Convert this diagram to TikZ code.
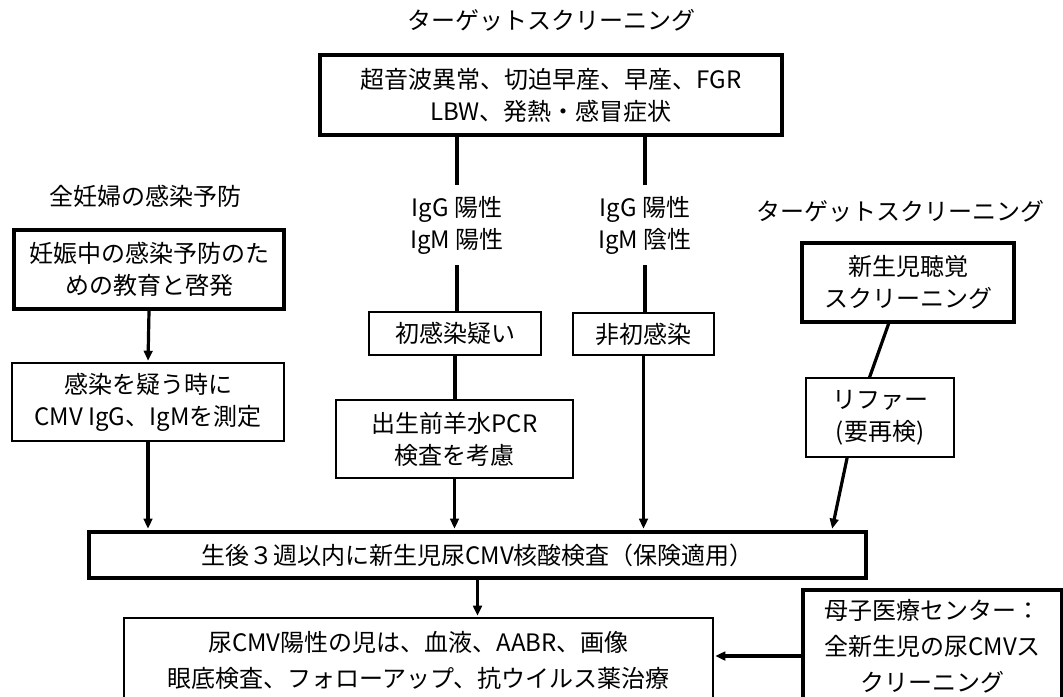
\documentclass[tikz,border=0pt]{standalone}
\usepackage{fontspec}
\setmainfont{Noto Sans CJK JP}
\usetikzlibrary{arrows.meta,calc}
\begin{document}
\begin{tikzpicture}[x=0.75pt,y=-0.75pt,
  every node/.style={font=\fontsize{18pt}{24pt}\selectfont, align=center, inner sep=0pt},
  wide/.style={font=\fontsize{18pt}{27pt}\selectfont},
  thickbox/.style={draw, line width=2.6pt},
  thinbox/.style={draw, line width=1pt},
  conn/.style={line width=2.4pt},
  arr/.style={line width=2.4pt, shorten >=1.2pt, -{Triangle[length=7.5pt,width=6.5pt]}}]
\useasboundingbox (0,0) rectangle (1063,696);
\fill[white] (0,0) rectangle (1063,696);
\begin{scope}
\clip (0,0) rectangle (1063,696);

\node (t1) at (551,20) {ターゲットスクリーニング};
\node[thickbox, minimum width=346.5pt, minimum height=60pt] (top) at (551,95) {超音波異常、切迫早産、早産、FGR\\LBW、発熱・感冒症状};
\node[minimum height=60pt] (l1) at (457,225) {IgG 陽性\\IgM 陽性};
\node[minimum height=60pt] (l2) at (645,225) {IgG 陽性\\IgM 陰性};
\node[thinbox, minimum width=129pt, minimum height=32.25pt] (sus) at (455,333.5) {初感染疑い};
\node[thinbox, minimum width=105.75pt, minimum height=31.5pt] (non) at (643.5,334) {非初感染};
\node[thinbox, minimum width=177.75pt, minimum height=58.5pt] (pcr) at (454.5,439) {出生前羊水PCR\\検査を考慮};

\node (t2) at (145,196) {全妊婦の感染予防};
\node[thickbox, minimum width=202.5pt, minimum height=59.25pt] (edu) at (149,269.5) {妊娠中の感染予防のた\\めの教育と啓発};
\node[thinbox, minimum width=204pt, minimum height=58.5pt] (meas) at (148,402) {感染を疑う時に\\CMV IgG、IgMを測定};

\node (t3) at (900,211) {ターゲットスクリーニング};
\node[thickbox, minimum width=159pt, minimum height=59.25pt] (hear) at (908,282.5) {新生児聴覚\\スクリーニング};
\node[thinbox, minimum width=111pt, minimum height=59.25pt] (ref) at (880,417.5) {リファー\\(要再検)};

\node[thickbox, minimum width=582.75pt, minimum height=34.5pt] (test) at (477.5,555) {生後３週以内に新生児尿CMV核酸検査（保険適用）};
\node[thinbox, wide, minimum width=441.75pt, minimum height=63pt] (pos) at (418.5,660) {尿CMV陽性の児は、血液、AABR、画像\\眼底検査、フォローアップ、抗ウイルス薬治療};
\node[thickbox, wide, minimum width=194.25pt, minimum height=84pt] (mc) at (932.5,646) {母子医療センター：\\全新生児の尿CMVス\\クリーニング};

\draw[conn] (top.south -| l1.north) -- (l1.north);
\draw[conn] (l1.south) -- (l1.south |- sus.north);
\draw[conn] (sus.south) -- (sus.south |- pcr.north);
\draw[arr] (pcr.south) -- (pcr.south |- test.north);
\draw[conn] (top.south -| l2.north) -- (l2.north);
\draw[conn] (l2.south) -- (l2.south |- non.north);
\draw[arr] (non.south) -- (non.south |- test.north);
\draw[arr] (edu.south) -- (meas.north);
\draw[arr] (meas.south) -- (meas.south |- test.north);
\draw[conn] ($(hear.south west)!0.41!(hear.south east)$) -- ($(ref.north west)!0.43!(ref.north east)$);
\draw[arr] ($(ref.south west)!0.28!(ref.south east)$) -- ($(test.north west)!0.954!(test.north east)$);
\draw[arr] (test.south) -- (test.south |- pos.north);
\draw[arr] (mc.west |- 0,656) -- (pos.east |- 0,656);
\end{scope}
\end{tikzpicture}
\end{document}
